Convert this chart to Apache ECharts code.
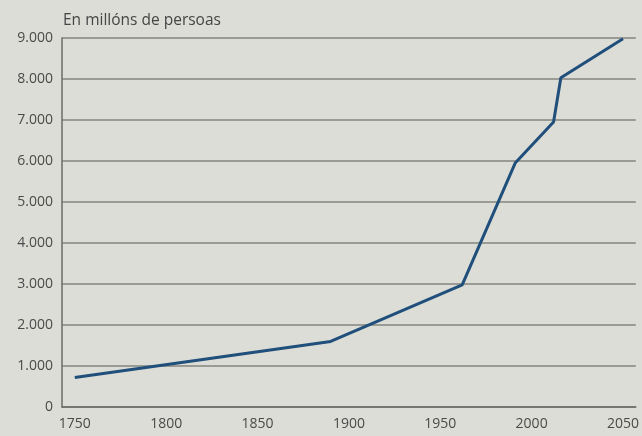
<!DOCTYPE html>
<html>
<head>
<meta charset="utf-8">
<script src="https://cdn.jsdelivr.net/npm/echarts@6/dist/echarts.min.js"></script>
<style>
  html, body { margin: 0; padding: 0; background: #dcddd7; }
  #chart { width: 642px; height: 436px; }
</style>
</head>
<body>
<div id="chart"></div>
<script>
// anos e poboación mundial (millóns)
const years = [1750, 1890, 1962, 1991, 2012, 2016, 2050]
const population = [720, 1600, 2980, 5950, 6950, 8030, 8980]
const yearTicks = [1750, 1800, 1850, 1900, 1950, 2000, 2050]
const title = 'En millóns de persoas'

const myChart = echarts.init(document.getElementById('chart'))
const option = {
  backgroundColor: '#dcddd7',
  textStyle: { fontFamily: 'Open Sans' },
  title: {
    text: title,
    left: 58,
    top: 8,
    textStyle: { fontSize: 15.5, fontWeight: 'normal', color: '#454545' }
  },
  grid: { left: 62, right: 2, top: 38, bottom: 29 },
  xAxis: {
    type: 'value',
    min: 1743,
    max: 2057,
    splitLine: { show: false },
    axisTick: { show: false },
    axisLine: { show: true, lineStyle: { color: '#6b6b66', width: 1.5 } },
    axisLabel: {
      customValues: yearTicks,
      color: '#4a4a4a',
      fontSize: 14,
      margin: 10,
      formatter: v => String(v)
    }
  },
  yAxis: {
    type: 'value',
    min: 0,
    max: 9000,
    interval: 1000,
    axisTick: { show: false },
    axisLine: { show: true, lineStyle: { color: '#6b6b66', width: 1.5 } },
    splitLine: { lineStyle: { color: '#85857e', width: 1.5 } },
    axisLabel: {
      color: '#4a4a4a',
      fontSize: 14,
      margin: 9,
      formatter: v => v === 0 ? '0' : (v / 1000) + '.000'
    }
  },
  series: [
    {
      type: 'line',
      data: years.map((y, i) => [y, population[i]]),
      symbol: 'none',
      lineStyle: { color: '#1f4f7a', width: 3 },
      silent: true
    }
  ]
}
myChart.setOption(option)
</script>
</body>
</html>
